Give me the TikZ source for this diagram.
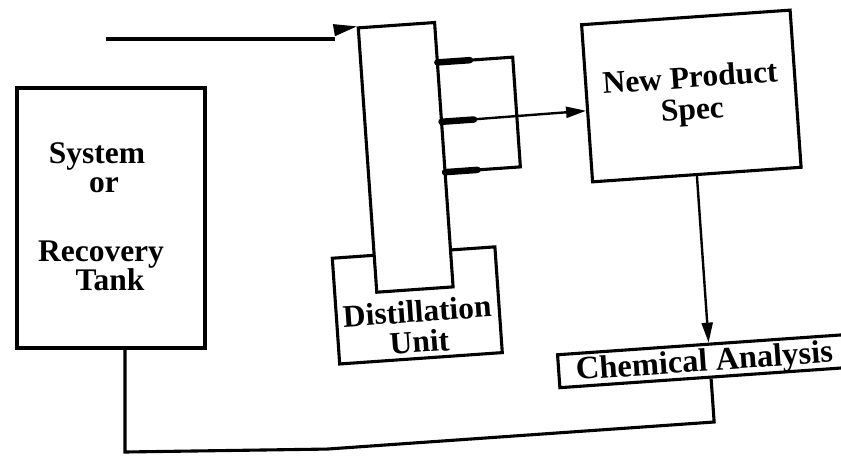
\documentclass[tikz,border=0pt]{standalone}
\usepackage{fontspec}
\setmainfont{Liberation Serif}
\usetikzlibrary{arrows.meta}
\begin{document}
\begin{tikzpicture}[x=1pt,y=1pt,
  box/.style={draw, line width=3.1pt, inner sep=0pt, fill=white},
  lbl/.style={font=\bfseries\fontsize{31.5}{29}\selectfont, align=center, inner sep=0pt},
  pipe/.style={line width=3.1pt},
  feedline/.style={line width=4.6pt},
  feedhead/.style={line width=1pt, -{Triangle[length=23pt,width=12pt]}},
  flow/.style={line width=2.4pt, -{Triangle[length=20pt,width=11pt]}},
  stub/.style={line width=6.5pt, line cap=round},
]
\useasboundingbox (0,0) rectangle (841,-456);
\clip (0,0) rectangle (841,-456);

% System or Recovery Tank
\node[box, minimum width=188pt, minimum height=260pt] (tank) at (111,-218) {};
\node[lbl] (tanklabel) at (101,-217) {System\hspace*{8pt}\\\hspace*{6pt}or\\[40pt]Recovery\\\hspace*{18pt}Tank};

% right part (slightly rotated as in the original)
\begin{scope}[shift={(450,-250)}, rotate=4, transform shape]
  \node[box, minimum width=163pt, minimum height=106pt] (unit) at (-36.5,-53) {};
  \node[box, minimum width=76.5pt, minimum height=265pt] (col) at (-37.75,95.5) {};
  \node[lbl, font=\bfseries\fontsize{31.5}{30.5}\selectfont] (unitlabel) at (-37,-74) {Distillation\\Unit};

  \coordinate (o1) at (0.5,188);
  \coordinate (o2) at (0.5,128.5);
  \coordinate (o3) at (0.5,78);
  \coordinate (b1) at (76,188);
  \coordinate (b3) at (76,78);
  \coordinate (s1) at (33,188);
  \coordinate (s2) at (33,128.5);
  \coordinate (s3) at (33,78);

  \node[box, lbl, font=\bfseries\fontsize{31.5}{32}\selectfont, minimum width=209pt, minimum height=157.5pt] (spec) at (251.5,136.8) {New Product\\Spec};

  \node[box, minimum width=303pt, minimum height=33pt] (ca) at (251.5,-128.5) {};
  \node[lbl, font=\bfseries\fontsize{32.5}{29}\selectfont, anchor=base] (calabel) at (246,-138.5) {Chemical Analysis};

  \coordinate (retcorner) at (251.5,-190);
  \coordinate (retbend) at (-136.6,-190);
\end{scope}

% outlets of the column
\draw[pipe] (o1) -- (b1) -- (b3) -- (o3);
\draw[stub] (o1) -- (s1);
\draw[stub] (o2) -- (s2);
\draw[stub] (o3) -- (s3);
\draw[flow] (o2) -- (spec.184);

% feed into the column
\coordinate (feed) at (106,-39);
\coordinate (feedbend) at (335,-39);
\coordinate (feedtip) at (335,-30);
\draw[feedline] (feed) -- (feedbend);
\draw[feedhead] (feedtip) -- (col.north west);

% spec to analysis
\draw[flow] (spec.south) -- (ca.north);

% return line to the tank
\coordinate (ret2) at (125,-452);
\draw[pipe] (ca.south) -- (retcorner) -- (retbend) -- (ret2) -- (tank.south -| ret2);
\end{tikzpicture}
\end{document}
